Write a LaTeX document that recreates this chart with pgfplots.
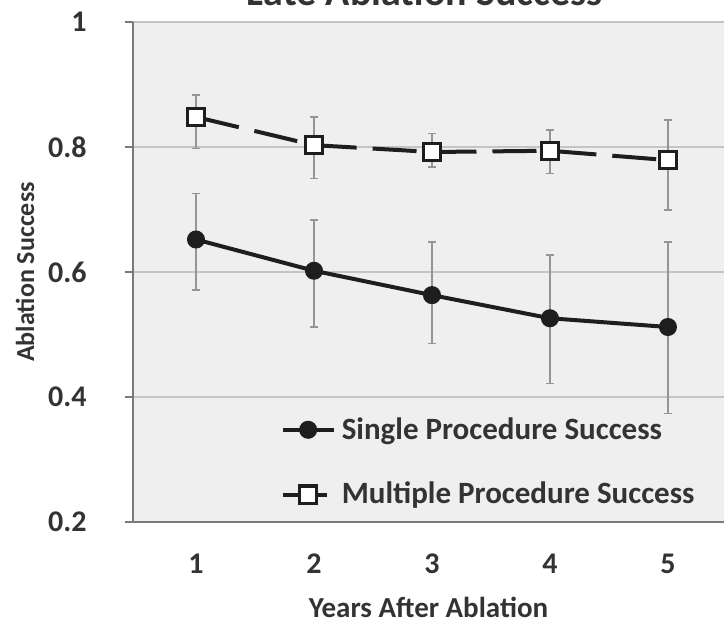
\documentclass[border=0pt]{standalone}
\usepackage{pgfplots}
\pgfplotsset{compat=1.18}
\usepackage{fontspec}
\setmainfont{Carlito}
\definecolor{bgc}{HTML}{EFEFEF}
\definecolor{gridc}{HTML}{C4C4C4}
\definecolor{axc}{HTML}{7A7A7A}
\definecolor{txt}{HTML}{333333}
\definecolor{lnc}{HTML}{1E1E1E}
\definecolor{errc}{HTML}{959595}
\begin{document}
\begin{tikzpicture}
\begin{axis}[
  scale only axis,
  width=295.5pt, height=250pt,
  xmin=0.466, xmax=5.475,
  ymin=0.2, ymax=1,
  axis background/.style={fill=bgc},
  axis x line*=bottom, axis y line*=left,
  axis line style={axc, line width=0.8pt},
  xtick={1,2,3,4,5},
  x tick style={draw=none},
  extra x ticks={1.5,2.5,3.5,4.5},
  extra x tick labels={},
  extra x tick style={major tick length=4pt, tick align=outside, tick style={axc, line width=0.8pt}},
  ytick={0.2,0.4,0.6,0.8,1},
  yticklabels={0.2,0.4,0.6,0.8,1},
  y tick style={axc, line width=0.8pt},
  tick align=outside,
  major tick length=4pt,
  ymajorgrids,
  grid style={gridc, line width=0.8pt},
  /pgf/number format/assume math mode=true,
  tick label style={font=\bfseries\fontsize{15}{17}\selectfont, text=txt},
  xticklabel style={anchor=center, yshift=-17pt},
  yticklabel style={anchor=east, inner sep=0pt, xshift=-19pt},
  xlabel={Years After Ablation},
  xlabel style={at={(rel axis cs:0.5,0)}, anchor=center, yshift=-42.5pt, font=\bfseries\fontsize{14.5}{16}\selectfont, text=txt},
  legend style={at={(0.249,0.222)}, anchor=north west, draw=none, fill=none,
    font=\bfseries\fontsize{15.5}{17}\selectfont, text=txt, row sep=14pt, inner sep=0pt,
    nodes={inner sep=3pt}},
  legend cell align=left,
  legend image code/.code={\draw[mark repeat=2,mark phase=2] plot coordinates {(0cm,0cm)(0.45cm,0cm)(0.9cm,0cm)};},
  clip=false,
]
\addplot[lnc, line width=2pt, mark=*, mark size=3.5pt, mark options={solid, fill=lnc},
  error bars/.cd, y dir=both, y explicit, error bar style={errc, line width=0.7pt, solid}, error mark options={rotate=90, mark size=1.8pt, errc, line width=0.7pt}]
  coordinates {
  (1,0.652) += (0,0.074) -= (0,0.081)
  (2,0.602) += (0,0.081) -= (0,0.090)
  (3,0.563) += (0,0.085) -= (0,0.077)
  (4,0.526) += (0,0.101) -= (0,0.104)
  (5,0.512) += (0,0.136) -= (0,0.138)
  };
\addlegendentry{Single Procedure Success}
\addplot[lnc, line width=2pt, dash pattern=on 22pt off 8pt, mark=square*, mark size=4.3pt, mark options={solid, fill=white, draw=lnc, line width=1.6pt},
  error bars/.cd, y dir=both, y explicit, error bar style={errc, line width=0.7pt, solid}, error mark options={rotate=90, mark size=1.8pt, errc, line width=0.7pt}]
  coordinates {
  (1,0.848) += (0,0.035) -= (0,0.050)
  (2,0.803) += (0,0.045) -= (0,0.053)
  (3,0.792) += (0,0.030) -= (0,0.024)
  (4,0.794) += (0,0.033) -= (0,0.036)
  (5,0.779) += (0,0.064) -= (0,0.080)
  };
\addlegendentry{Multiple Procedure Success}
\end{axis}
\node[rotate=90, font=\bfseries\fontsize{13}{15}\selectfont, text=txt] at ([xshift=-54pt, yshift=125pt]current axis.south west) {Ablation Success};
\node[anchor=base, font=\bfseries\fontsize{20}{22}\selectfont, text=txt] at ([xshift=-2pt, yshift=8.5pt]current axis.north) {Late Ablation Success};
\pgfresetboundingbox
\useasboundingbox ([xshift=-66.5pt,yshift=-53.5pt]current axis.south west) rectangle ([yshift=11pt]current axis.north east);
\end{tikzpicture}
\end{document}
